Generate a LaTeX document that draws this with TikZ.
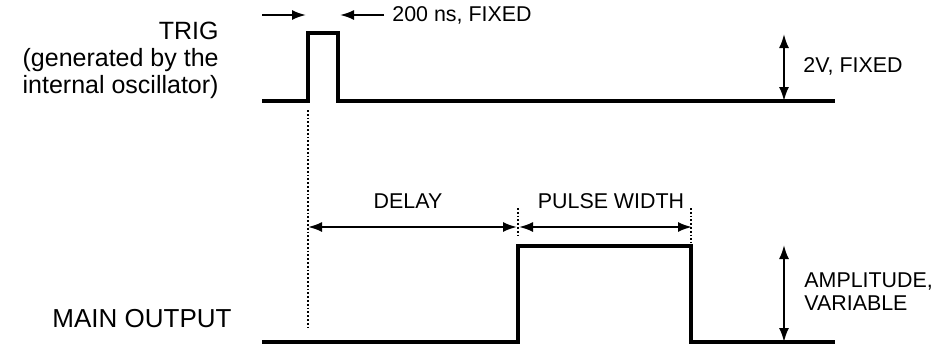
\documentclass[tikz,border=0pt]{standalone}
\usepackage{fontspec}
\setmainfont{Liberation Sans}
\usetikzlibrary{arrows.meta}

\begin{document}
\begin{tikzpicture}[x=0.5pt,y=-0.5pt,>={Latex[length=7pt,width=5pt]},
			signal/.style={line width=2.2pt,line join=miter},
			dimline/.style={<->,line width=1pt},
			marker/.style={densely dotted,line width=0.9pt},
			biglabel/.style={inner sep=0pt,font=\fontsize{12.5}{13.5}\selectfont},
			smalllabel/.style={inner sep=0pt,font=\fontsize{10.7}{11.5}\selectfont}]
			\useasboundingbox (0,0) rectangle (937,350);
			% trigger pulse
			\draw[signal] (262,101) -- (308,101) -- (308,33) -- (338,33) -- (338,101) -- (835,101);
			\node[biglabel,align=right,anchor=north east] (trig) at (219,22) {TRIG\\(generated by the\\internal oscillator)};
			\coordinate (wa) at (262,15);
			\coordinate (wb) at (306,15);
			\coordinate (wc) at (384,15);
			\coordinate (wd) at (340,15);
			\draw[->,line width=1pt] (wa) -- (wb);
			\draw[->,line width=1pt] (wc) -- (wd);
			\node[smalllabel,anchor=west] (width) at (392,15) {200 ns, FIXED};
			\coordinate (ta) at (784,34);
			\coordinate (tb) at (784,101);
			\draw[dimline] (ta) -- (tb);
			\node[smalllabel,anchor=west] (twov) at (803,66) {2V, FIXED};
			% main output pulse
			\draw[signal] (262,342) -- (518,342) -- (518,246) -- (691,246) -- (691,342) -- (835,342);
			\node[biglabel,font=\fontsize{13}{14}\selectfont,anchor=base] (mainout) at (142,327) {MAIN OUTPUT};
			\coordinate (da) at (308,110);
			\coordinate (db) at (308,330);
			\draw[marker] (da) -- (db);
			\coordinate (pa) at (518,208);
			\coordinate (pb) at (518,236);
			\coordinate (pc) at (691,208);
			\coordinate (pd) at (691,243);
			\draw[marker] (pa) -- (pb);
			\draw[marker] (pc) -- (pd);
			\coordinate (dl) at (308,227);
			\coordinate (dr) at (517,227);
			\coordinate (wl) at (519,227);
			\coordinate (wr) at (692,227);
			\draw[dimline] (dl) -- (dr);
			\draw[dimline] (wl) -- (wr);
			\node[smalllabel] (delay) at (408,201) {DELAY};
			\node[smalllabel] (pulsew) at (611,201) {PULSE WIDTH};
			\coordinate (aa) at (784,245);
			\coordinate (ab) at (784,342);
			\draw[dimline] (aa) -- (ab);
			\node[smalllabel,align=left,anchor=west] (ampl) at (804,292) {AMPLITUDE,\\VARIABLE};

		\end{tikzpicture}
\end{document}
